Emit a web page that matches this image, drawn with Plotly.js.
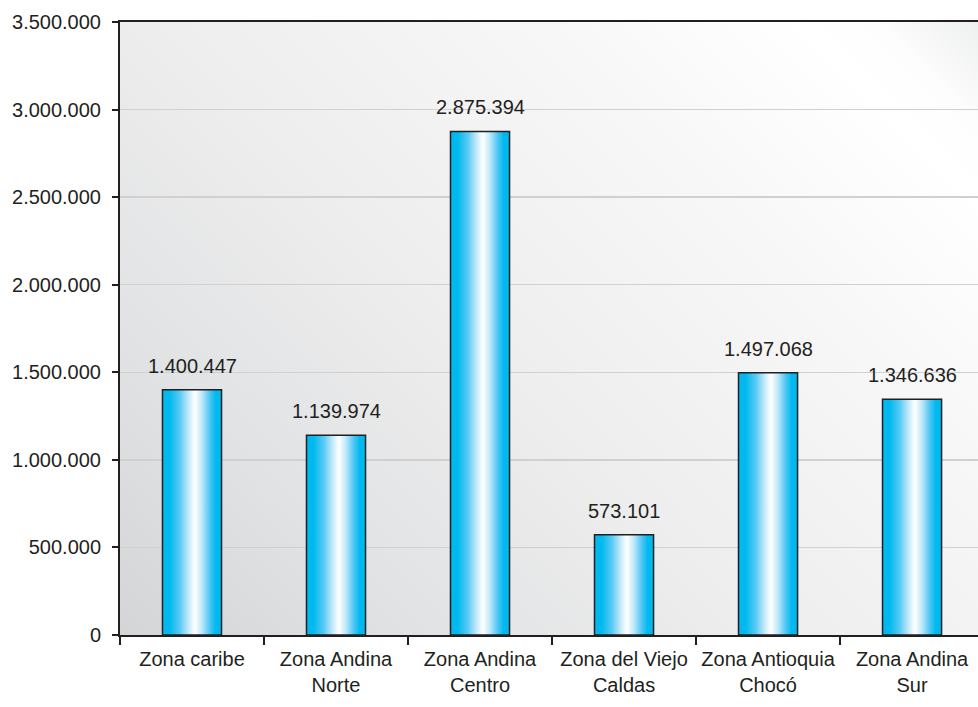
<!DOCTYPE html>
<html>
<head>
<meta charset="utf-8">
<script src="https://cdn.plot.ly/plotly-3.0.1.min.js"></script>
<style>html,body{margin:0;padding:0;background:#fff;}#chart{width:978px;height:707px;}</style>
</head>
<body>
<div id="chart"></div>
<script>
var categories = ["Zona caribe", "Zona Andina<br>Norte", "Zona Andina<br>Centro", "Zona del Viejo<br>Caldas", "Zona Antioquia<br>Chocó", "Zona Andina<br>Sur"];
var values = [1400447, 1139974, 2875394, 573101, 1497068, 1346636];
var valueLabels = ["1.400.447", "1.139.974", "2.875.394", "573.101", "1.497.068", "1.346.636"];
var yTicks = [0, 500000, 1000000, 1500000, 2000000, 2500000, 3000000, 3500000];

var ink = '#231f20';
var font = '"Liberation Sans", Arial, Helvetica, sans-serif';

var trace = {
  type: 'bar',
  x: categories,
  y: values,
  width: 0.41,
  marker: {color: '#00b9ef', line: {color: ink, width: 1.5}},
  cliponaxis: false,
  hoverinfo: 'none'
};

var annotations = categories.map(function (c, i) {
  return {
    x: c, y: values[i], xref: 'x', yref: 'y',
    text: valueLabels[i], showarrow: false,
    yanchor: 'bottom', yshift: 11,
    font: {family: font, size: 20, color: ink}
  };
});

var layout = {
  width: 978, height: 707,
  margin: {l: 120, r: 0, t: 22, b: 72},
  separators: ',.',
  paper_bgcolor: '#ffffff',
  plot_bgcolor: 'rgb(1, 2, 3)',
  showlegend: false,
  font: {family: font, size: 20, color: ink},
  annotations: annotations,
  xaxis: {
    type: 'category',
    range: [-0.5, 5.458],
    showline: true, linecolor: ink, linewidth: 2, mirror: true,
    ticks: 'outside', tickson: 'boundaries', ticklen: 8, tickwidth: 2, tickcolor: ink,
    tickangle: 0, ticklabelstandoff: 5,
    tickfont: {family: font, size: 20, color: ink},
    showgrid: false, zeroline: false, fixedrange: true
  },
  yaxis: {
    range: [0, 3500000],
    tickvals: yTicks,
    tickformat: ',d',
    showline: true, linecolor: ink, linewidth: 2,
    ticks: 'outside', ticklen: 6, tickwidth: 2, tickcolor: ink,
    ticklabelstandoff: 7,
    tickfont: {family: font, size: 20, color: ink},
    showgrid: true, gridcolor: '#d0d0d0', gridwidth: 1.5,
    zeroline: false, fixedrange: true
  }
};

function addGradient(defs, id, attrs, stops) {
  var ns = 'http://www.w3.org/2000/svg';
  var g = document.createElementNS(ns, 'linearGradient');
  g.setAttribute('id', id);
  Object.keys(attrs).forEach(function (k) { g.setAttribute(k, attrs[k]); });
  stops.forEach(function (s) {
    var st = document.createElementNS(ns, 'stop');
    st.setAttribute('offset', s[0]);
    st.setAttribute('stop-color', s[1]);
    g.appendChild(st);
  });
  defs.appendChild(g);
}

Plotly.newPlot('chart', [trace], layout, {staticPlot: true}).then(function (gd) {
  var svg = gd.querySelector('.main-svg');
  var ns = 'http://www.w3.org/2000/svg';
  var defs = svg.querySelector('defs');
  if (!defs) { defs = document.createElementNS(ns, 'defs'); svg.insertBefore(defs, svg.firstChild); }
  addGradient(defs, 'barGrad', {x1: '0', y1: '0', x2: '1', y2: '0'}, [
    ['0', '#00b9ef'], ['0.12', '#00b9ef'], ['0.3', '#5ccbf4'], ['0.45', '#c9ecfb'],
    ['0.55', '#ffffff'], ['0.66', '#c4eafa'], ['0.8', '#4fc6f2'], ['0.9', '#00b9ef'], ['1', '#00b9ef']
  ]);
  gd.querySelectorAll('rect').forEach(function (r) {
    var f = r.style.fill || r.getAttribute('fill') || '';
    if (f.replace(/\s/g, '') === 'rgb(1,2,3)') {
      var rx = parseFloat(r.getAttribute('x')) || 0, ry = parseFloat(r.getAttribute('y')) || 0;
      var w = parseFloat(r.getAttribute('width')), h = parseFloat(r.getAttribute('height'));
      var d = (w + h) / 2;
      addGradient(defs, 'bgGrad', {gradientUnits: 'userSpaceOnUse', x1: rx, y1: ry + h, x2: rx + d, y2: ry + h - d}, [
        ['0', '#d4d5d7'], ['0.2', '#e1e2e3'], ['0.45', '#eeeeef'], ['0.7', '#f7f7f7'],
        ['0.88', '#ffffff'], ['0.93', '#fdfdfd'], ['1', '#eeefef']
      ]);
      r.style.fill = 'url(#bgGrad)';
    }
  });
  gd.querySelectorAll('.barlayer .point path').forEach(function (p) {
    p.style.fill = 'url(#barGrad)';
  });
});
</script>
</body>
</html>
